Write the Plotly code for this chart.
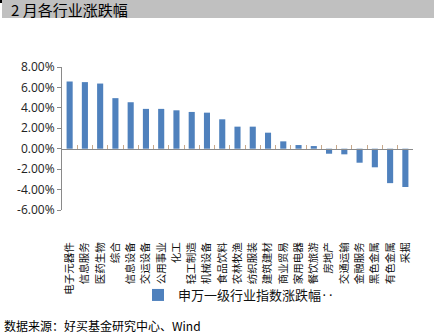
import plotly.graph_objects as go

categories = ["电子元器件", "信息服务", "医药生物", "综合", "信息设备", "交运设备", "公用事业",
              "化工", "轻工制造", "机械设备", "食品饮料", "农林牧渔", "纺织服装", "建筑建材",
              "商业贸易", "家用电器", "餐饮旅游", "房地产", "交通运输", "金融服务", "黑色金属",
              "有色金属", "采掘"]
values = [6.58, 6.52, 6.38, 4.95, 4.55, 3.90, 3.90, 3.76, 3.60, 3.53, 2.88, 2.16, 2.16, 1.57,
          0.72, 0.36, 0.26, -0.49, -0.55, -1.37, -1.82, -3.37, -3.75]
series_name = "申万一级行业指数涨跌幅‥"
title_text = "2 月各行业涨跌幅"
source_text = "数据来源：好买基金研究中心、Wind"
y_ticks = [-6, -4, -2, 0, 2, 4, 6, 8]

W, H = 434, 336
ML, MR, MT, MB = 62, 21, 67, 126
PW, PH = W - ML - MR, H - MT - MB


def px(x):
    return (x - ML) / PW


def py(y):
    return (H - MB - y) / PH


FONT = "Noto Sans CJK SC"

fig = go.Figure()
fig.add_trace(go.Bar(x=categories, y=values, name=series_name,
                     marker=dict(color="#4f81bd", line=dict(width=0)),
                     showlegend=True))
fig.add_trace(go.Scatter(x=categories, y=values, mode="none", xaxis="x2",
                         showlegend=False, hoverinfo="skip"))

ymin, ymax = y_ticks[0], y_ticks[-1]
fig.update_layout(
    width=W, height=H,
    margin=dict(l=ML, r=MR, t=MT, b=MB),
    paper_bgcolor="white", plot_bgcolor="white",
    bargap=0.6,
    font=dict(family=FONT, color="#222"),
    xaxis=dict(type="category", categoryarray=categories, showline=False,
               ticks="outside", ticklen=27, tickcolor="rgba(0,0,0,0)",
               tickangle=-90, tickfont=dict(size=10.5, color="#111", family=FONT),
               showgrid=False, zeroline=False, range=[-0.5, len(categories) - 0.5]),
    xaxis2=dict(type="category", categoryarray=categories, overlaying="x",
                anchor="free", position=(0 - ymin) / (ymax - ymin), side="bottom",
                showline=True, linecolor="#8a8a8a", linewidth=1,
                ticks="inside", tickson="boundaries", ticklen=4, tickcolor="#c8a88a",
                showticklabels=False, showgrid=False, zeroline=False,
                range=[-0.5, len(categories) - 0.5]),
    yaxis=dict(range=[ymin, ymax], tickvals=y_ticks,
               ticktext=[f"{v:.2f}%" for v in y_ticks],
               showline=True, linecolor="#8a8a8a", linewidth=1,
               ticks="outside", ticklen=4, tickcolor="#8a8a8a",
               tickfont=dict(size=12, color="#222", family="Open Sans"),
               showgrid=False, zeroline=False),
    legend=dict(orientation="h", x=px(138), y=py(295), xanchor="left", yanchor="middle",
                font=dict(size=13, color="#111", family=FONT), bgcolor="rgba(0,0,0,0)",
                itemwidth=30, tracegroupgap=0),
    showlegend=True,
)

# title bar
fig.add_shape(type="rect", xref="paper", yref="paper",
              x0=px(2), x1=px(434), y0=py(18), y1=py(0),
              fillcolor="#c0c0c0", line=dict(width=0), layer="below")
fig.add_shape(type="rect", xref="paper", yref="paper",
              x0=px(0), x1=px(2), y0=py(3), y1=py(0),
              fillcolor="#000", line=dict(width=0))
fig.add_annotation(text=title_text, xref="paper", yref="paper",
                   x=px(9), y=py(9.5), xanchor="left", yanchor="middle",
                   showarrow=False, font=dict(size=15, color="#000", family=FONT))
fig.add_annotation(text=source_text, xref="paper", yref="paper",
                   x=px(2), y=py(325), xanchor="left", yanchor="middle",
                   showarrow=False, font=dict(size=12, color="#000", family=FONT))

fig.write_html("out.html")
